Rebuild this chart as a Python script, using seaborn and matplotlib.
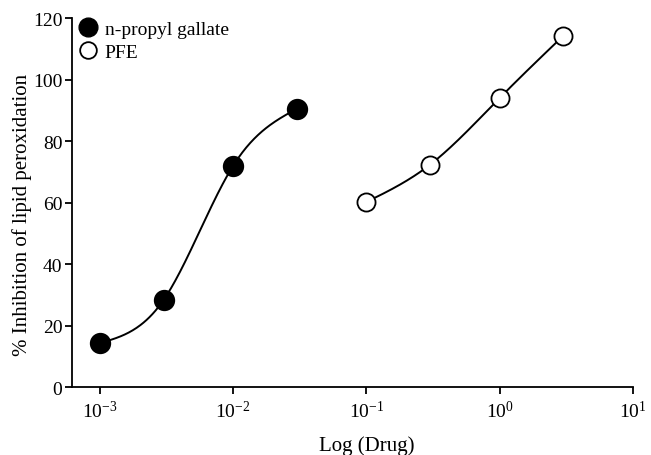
import numpy as np
import pandas as pd
import matplotlib
matplotlib.use("Agg")
import matplotlib.pyplot as plt
import matplotlib.ticker as mticker
from matplotlib.lines import Line2D
import seaborn as sns

# data
gallate_dose = [0.001, 0.003, 0.01, 0.03]
gallate_inhib = [14.3, 28.3, 72.0, 90.5]
pfe_dose = [0.1, 0.3, 1.0, 3.0]
pfe_inhib = [60.2, 72.3, 94.0, 114.2]

sns.set_style("ticks")
plt.rcParams['font.family'] = ['Liberation Serif', 'DejaVu Serif']
plt.rcParams['mathtext.fontset'] = 'stix'
plt.rcParams['axes.linewidth'] = 1.3
for k in ['text.color', 'axes.labelcolor', 'xtick.color', 'ytick.color', 'axes.edgecolor']:
    plt.rcParams[k] = 'black'

fig = plt.figure(figsize=(6.51, 4.56), dpi=100)
ax = fig.add_axes([0.1106, 0.149, 0.8614, 0.809])


def spline_curve(dose, inhib, n=200):
    # natural cubic spline through the points in log-dose space, only for the connecting line
    x = np.log10(dose)
    y = np.asarray(inhib, dtype=float)
    k = len(x)
    h = np.diff(x)
    A = np.zeros((k, k))
    b = np.zeros(k)
    A[0, 0] = A[-1, -1] = 1
    for i in range(1, k - 1):
        A[i, i - 1] = h[i - 1]
        A[i, i] = 2 * (h[i - 1] + h[i])
        A[i, i + 1] = h[i]
        b[i] = 6 * ((y[i + 1] - y[i]) / h[i] - (y[i] - y[i - 1]) / h[i - 1])
    M = np.linalg.solve(A, b)
    xs = np.linspace(x[0], x[-1], n)
    idx = np.clip(np.searchsorted(x, xs) - 1, 0, k - 2)
    a = x[idx + 1] - xs
    c = xs - x[idx]
    hh = h[idx]
    ys = (M[idx] * a**3 + M[idx + 1] * c**3) / (6 * hh) \
        + (y[idx] / hh - M[idx] * hh / 6) * a + (y[idx + 1] / hh - M[idx + 1] * hh / 6) * c
    return 10 ** xs, ys


for dose, inhib in [(gallate_dose, gallate_inhib), (pfe_dose, pfe_inhib)]:
    cx, cy = spline_curve(dose, inhib)
    sns.lineplot(x=cx, y=cy, ax=ax, color='black', linewidth=1.4, sort=False)

df_g = pd.DataFrame({'dose': gallate_dose, 'inhib': gallate_inhib})
df_p = pd.DataFrame({'dose': pfe_dose, 'inhib': pfe_inhib})
sns.scatterplot(data=df_g, x='dose', y='inhib', ax=ax, s=200, color='black',
                edgecolor='black', linewidth=1.2, zorder=5)
sns.scatterplot(data=df_p, x='dose', y='inhib', ax=ax, s=170, color='white',
                edgecolor='black', linewidth=1.3, zorder=5)

ax.set_xscale('log')
ax.set_xlim(10 ** -3.21, 10)
ax.set_ylim(0, 120)
ax.set_yticks(range(0, 121, 20))
ax.xaxis.set_major_locator(mticker.FixedLocator([1e-3, 1e-2, 1e-1, 1, 10]))
ax.xaxis.set_minor_locator(mticker.NullLocator())
ax.tick_params(axis='both', labelsize=14, length=5, width=1.3, direction='out', pad=2)
ax.tick_params(axis='x', pad=4)
sns.despine(ax=ax)

ax.set_xlabel('Log (Drug)', fontsize=15)
ax.xaxis.set_label_coords(0.526, -0.132)
ax.set_ylabel('% Inhibition of lipid peroxidation', fontsize=15)
ax.yaxis.set_label_coords(-0.072, 0.47)

handles = [
    Line2D([], [], marker='o', linestyle='none', markersize=13.5, markerfacecolor='black',
           markeredgecolor='black', label='n-propyl gallate'),
    Line2D([], [], marker='o', linestyle='none', markersize=12, markerfacecolor='white',
           markeredgecolor='black', markeredgewidth=1.3, label='PFE'),
]
ax.legend(handles=handles, loc='upper left', bbox_to_anchor=(-0.006, 1.016), frameon=False,
          fontsize=14, handletextpad=0.25, borderaxespad=0.0, labelspacing=0.3,
          handlelength=1.2)

fig.savefig('out.png', dpi=100)
